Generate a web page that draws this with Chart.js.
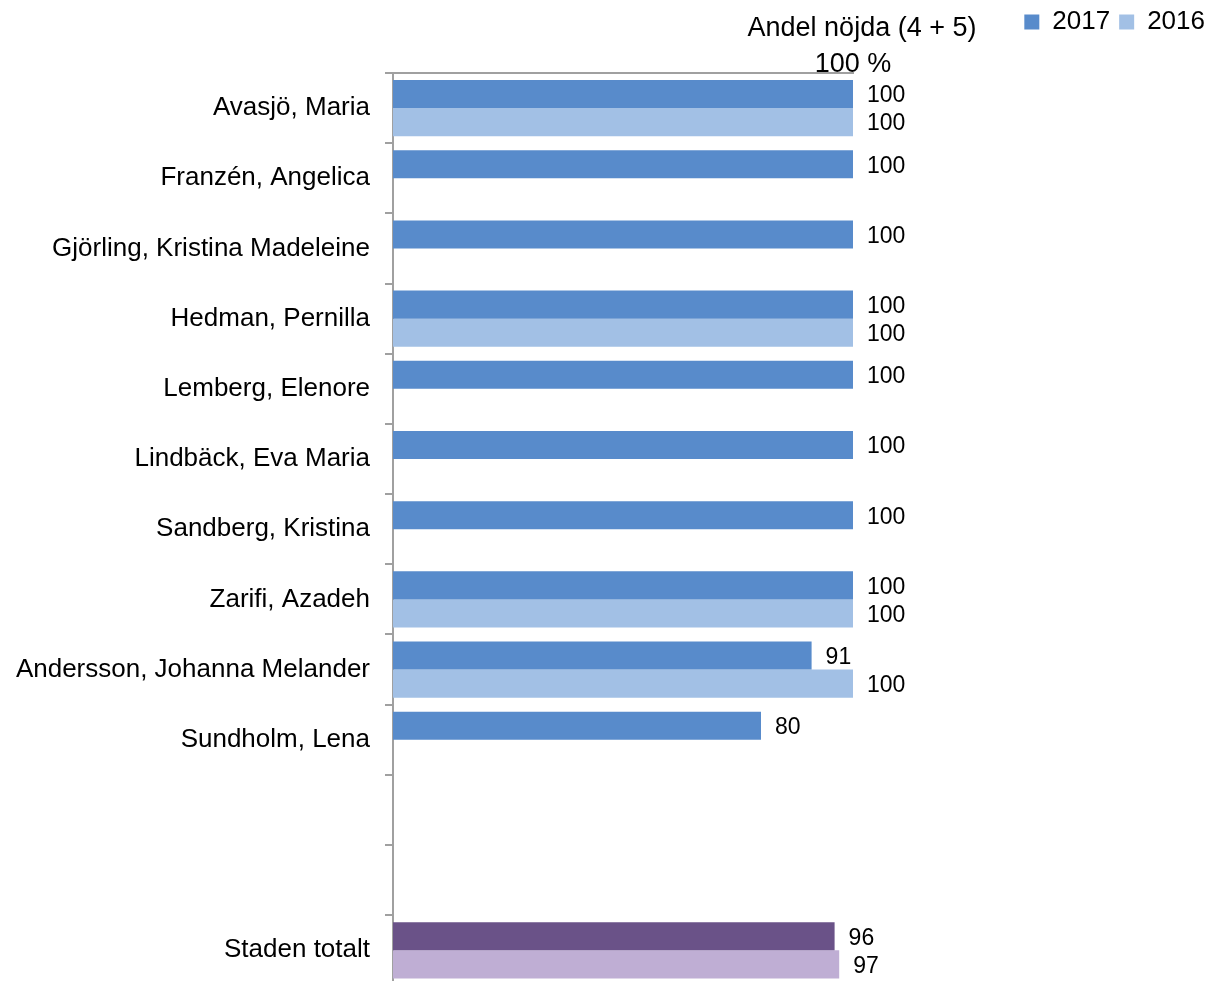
<!DOCTYPE html>
<html>
<head>
<meta charset="utf-8">
<script src="https://cdn.jsdelivr.net/npm/chart.js@4.4.1/dist/chart.umd.min.js"></script>
<style>
  html, body { margin: 0; padding: 0; background: #fff; overflow: hidden; }
  #wrap { width: 1208px; height: 1016px; position: relative; }
</style>
</head>
<body>
<div id="wrap"><canvas id="myChart"></canvas></div>
<script>
const categories = ['Avasjö, Maria', 'Franzén, Angelica', 'Gjörling, Kristina Madeleine', 'Hedman, Pernilla',
  'Lemberg, Elenore', 'Lindbäck, Eva Maria', 'Sandberg, Kristina', 'Zarifi, Azadeh',
  'Andersson, Johanna Melander', 'Sundholm, Lena', '', '', 'Staden totalt'];
const values2017 = [100, 100, 100, 100, 100, 100, 100, 100, 91, 80, null, null, 96];
const values2016 = [100, null, null, 100, null, null, null, 100, 100, null, null, null, 97];
const seriesNames = ['2017', '2016'];
const axisTitle = 'Andel nöjda (4 + 5)';
const tickLabel = '100 %';

const FONT = '"Liberation Sans", Arial, sans-serif';
const blue = '#588BCB', lightBlue = '#A2C0E5';
const purple = '#6A5288', lightPurple = '#BFAED4';
const totalIdx = categories.indexOf('Staden totalt');

const colors2017 = categories.map((c, i) => i === totalIdx ? purple : blue);
const colors2016 = categories.map((c, i) => i === totalIdx ? lightPurple : lightBlue);

// value labels next to each bar
const valueLabels = {
  id: 'valueLabels',
  afterDatasetsDraw(chart) {
    const ctx = chart.ctx;
    ctx.save();
    ctx.font = '23px ' + FONT;
    ctx.fillStyle = '#000';
    ctx.textAlign = 'left';
    ctx.textBaseline = 'middle';
    chart.data.datasets.forEach((ds, di) => {
      chart.getDatasetMeta(di).data.forEach((bar, i) => {
        const v = ds.data[i];
        if (v === null) return;
        ctx.fillText(String(v), bar.x + 14, bar.y + 2);
      });
    });
    ctx.restore();
  }
};

// axis title sits to the right, above the tick label
const axisTitlePlugin = {
  id: 'axisTitle',
  afterDraw(chart) {
    const ctx = chart.ctx;
    ctx.save();
    ctx.font = '27px ' + FONT;
    ctx.fillStyle = '#000';
    ctx.textAlign = 'center';
    ctx.textBaseline = 'middle';
    ctx.fillText(axisTitle, 862, 29);
    ctx.restore();
  }
};

const ctx = document.getElementById('myChart').getContext('2d');

const myChart = new Chart(ctx, {
  type: 'bar',
  data: {
    labels: categories,
    datasets: [{
      label: seriesNames[0],
      data: values2017,
      backgroundColor: colors2017,
      borderWidth: 0
    }, {
      label: seriesNames[1],
      data: values2016,
      backgroundColor: colors2016,
      borderWidth: 0
    }]
  },
  options: {
    indexAxis: 'y',
    responsive: true,
    maintainAspectRatio: false,
    animation: false,
    categoryPercentage: 0.8,
    barPercentage: 1.0,
    layout: { padding: { left: 0, top: 0, bottom: 0, right: -6 } },
    plugins: {
      tooltip: { enabled: false },
      legend: {
        display: true,
        position: 'top',
        align: 'end',
        labels: {
          font: { family: FONT, size: 26 },
          color: '#000',
          boxWidth: 15,
          boxHeight: 15,
          padding: 9,
          generateLabels: () => [
            { text: seriesNames[0], fillStyle: blue, strokeStyle: blue, lineWidth: 0, datasetIndex: 0 },
            { text: seriesNames[1], fillStyle: lightBlue, strokeStyle: lightBlue, lineWidth: 0, datasetIndex: 1 }
          ]
        }
      }
    },
    scales: {
      x: {
        position: 'top',
        min: 0,
        max: 100,
        grid: { display: false },
        border: { display: true, color: '#A0A0A0', width: 2 },
        ticks: {
          stepSize: 100,
          padding: -16,
          font: { family: FONT, size: 27 },
          color: '#000',
          callback: (v) => v === 100 ? tickLabel : ''
        },
        afterFit: (s) => { s.height = 28; }
      },
      y: {
        grid: {
          display: true,
          offset: true,
          drawOnChartArea: false,
          tickLength: 8,
          color: '#A0A0A0',
          lineWidth: 2
        },
        border: { display: true, color: '#A0A0A0', width: 2 },
        ticks: {
          padding: 15,
          font: { family: FONT, size: 26 },
          color: '#000'
        },
        afterFit: (s) => { s.width = 393; }
      },
      // empty space to the right of the bars
      yRight: {
        type: 'category',
        axis: 'y',
        position: 'right',
        grid: { display: false },
        border: { display: false },
        ticks: { display: false },
        afterFit: (s) => { s.width = 361; }
      }
    }
  },
  plugins: [valueLabels, axisTitlePlugin]
});
</script>
</body>
</html>
